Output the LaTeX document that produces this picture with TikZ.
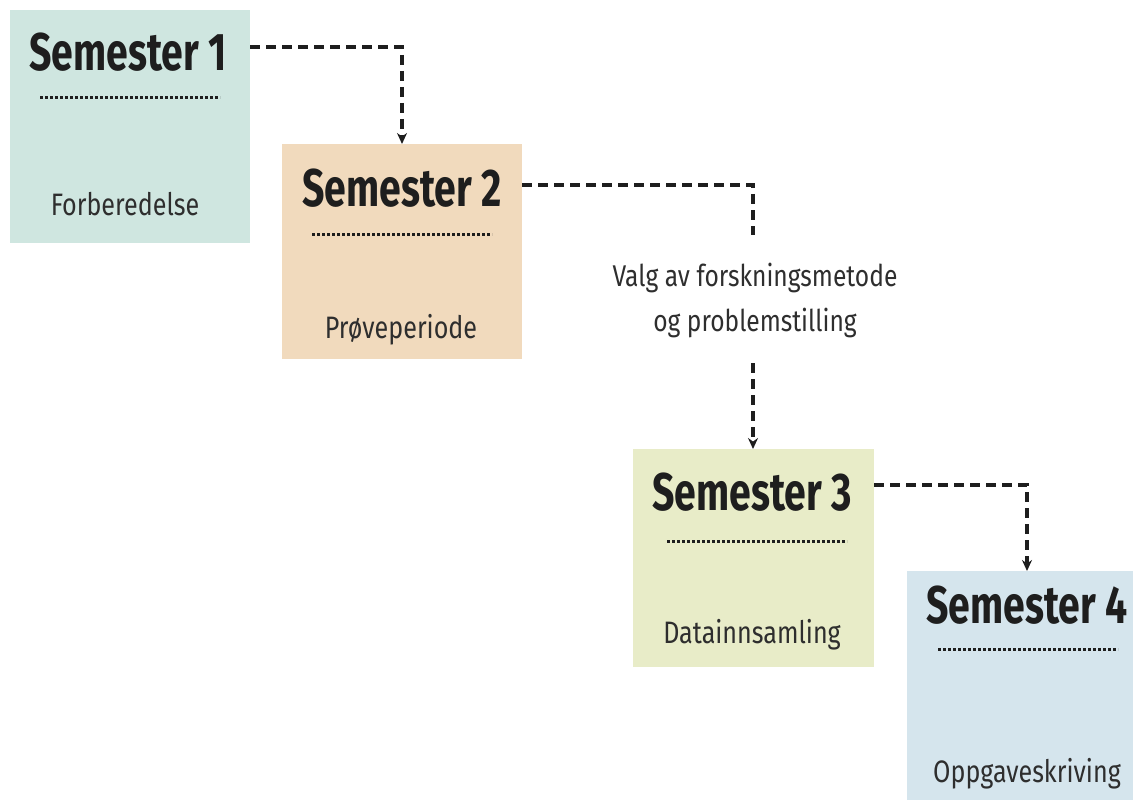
\documentclass[tikz,border=0pt]{standalone}
\usepackage{fontspec}
\setmainfont{Fira Sans}[FakeStretch=0.81]
\newfontfamily\hfont{Fira Sans}[FakeStretch=0.74]
\newfontfamily\lfont{Fira Sans}[FakeStretch=0.82]
\usetikzlibrary{arrows.meta,calc}
\definecolor{c1}{HTML}{CFE6E0}
\definecolor{c2}{HTML}{F1DABD}
\definecolor{c3}{HTML}{E8ECC8}
\definecolor{c4}{HTML}{D5E5ED}
\definecolor{ink}{HTML}{1E1E1E}
\definecolor{subink}{HTML}{2E2E2E}
\begin{document}
\begin{tikzpicture}[x=1pt,y=-1pt,
  box/.style={fill=#1,draw=none,inner sep=0pt},
  head/.style={anchor=base,inner sep=0pt,text=ink,font=\hfont\bfseries\fontsize{53}{60}\selectfont},
  sub/.style={anchor=base,inner sep=0pt,text=subink,font=\fontsize{31}{36}\selectfont},
  rulel/.style={draw=ink,line width=3pt,dash pattern=on 3pt off 2pt},
  conn/.style={draw=ink,line width=3.2pt,dash pattern=on 10pt off 6pt},
  tip/.style={-{Stealth[length=11pt,width=10pt]}}
]
\useasboundingbox (0,0) rectangle (1137,805);
% boxes
\path[box=c1] (10,10) rectangle (250,243);
\path[box=c2] (282,144) rectangle (522,359);
\path[box=c3] (633,449) rectangle (874,667);
\path[box=c4] (907,571) rectangle (1133,800);
\coordinate (b1e) at (250,0);
\coordinate (b2n) at (0,144);
\coordinate (b2e) at (522,0);
\coordinate (b3n) at (0,449);
\coordinate (b3e) at (874,0);
\coordinate (b4n) at (0,571);
% headings
\node[head] (h1) at (128,71) {Semester 1};
\node[head] (h2) at (402,206) {Semester 2};
\node[head] (h3) at (752,510) {Semester 3};
\node[head] (h4) at (1027,623) {Semester 4};
% rules
\path[rulel] (40,98) -- (220,98);
\path[rulel] (312,234) -- (492,234);
\path[rulel] (667,541) -- (847,541);
\path[rulel] (938,649) -- (1118,649);
% sub texts
\node[sub] (s1) at (125,215) {Forberedelse};
\node[sub] (s2) at (401,338) {Prøveperiode};
\node[sub] (s3) at (752,643) {Datainnsamling};
\node[sub] (s4) at (1027,782) {Oppgaveskriving};
% label
\node[align=center,text=subink,font=\lfont\fontsize{30}{45}\selectfont,inner sep=0pt] (lbl) at (755,300) {Valg av forskningsmetode\\og problemstilling};
\coordinate (l1) at (753,235);
\coordinate (l2) at (753,363);
% connectors
\path[conn,tip] (b1e |- 0,47) -| (h2.center |- b2n);
\path[conn] (b2e |- 0,185) -| (l1);
\path[conn,tip] (l2) -- (l2 |- b3n);
\path[conn,tip] (b3e |- 0,485) -| (h4.center |- b4n);
\end{tikzpicture}
\end{document}
